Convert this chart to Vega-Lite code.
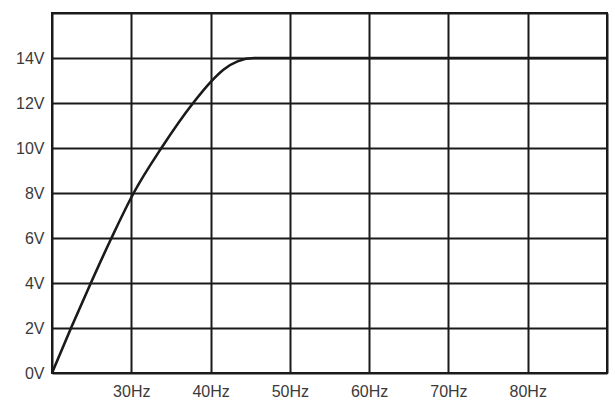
{
  "$schema": "https://vega.github.io/schema/vega-lite/v6.json",
  "width": 555,
  "height": 360,
  "autosize": {"type": "none"},
  "padding": {"left": 52, "top": 13, "right": 8, "bottom": 34},
  "background": "white",
  "data": {
    "values": [
      {"hz": 20, "v": 0},
      {"hz": 22.4, "v": 2},
      {"hz": 24.9, "v": 4},
      {"hz": 27.5, "v": 6},
      {"hz": 30.3, "v": 8},
      {"hz": 33.8, "v": 10},
      {"hz": 37.8, "v": 12},
      {"hz": 40, "v": 12.93},
      {"hz": 41.7, "v": 13.5},
      {"hz": 43.4, "v": 13.85},
      {"hz": 45.5, "v": 14},
      {"hz": 90, "v": 14}
    ]
  },
  "mark": {"type": "line", "color": "#1a1a1a", "strokeWidth": 2.6, "interpolate": "monotone"},
  "encoding": {
    "x": {
      "field": "hz",
      "type": "quantitative",
      "scale": {"domain": [20, 90], "nice": false, "zero": false},
      "axis": {
        "values": [20, 30, 40, 50, 60, 70, 80, 90],
        "labelExpr": "datum.value == 20 || datum.value == 90 ? '' : datum.value + 'Hz'",
        "title": null,
        "ticks": false,
        "domain": false,
        "gridColor": "#1a1a1a",
        "gridWidth": 2,
        "gridOpacity": 1,
        "labelPadding": 10
      }
    },
    "y": {
      "field": "v",
      "type": "quantitative",
      "scale": {"domain": [0, 16], "nice": false},
      "axis": {
        "values": [0, 2, 4, 6, 8, 10, 12, 14, 16],
        "labelExpr": "datum.value == 16 ? '' : datum.value + 'V'",
        "title": null,
        "ticks": false,
        "domain": false,
        "gridColor": "#1a1a1a",
        "gridWidth": 2,
        "gridOpacity": 1,
        "labelPadding": 8
      }
    }
  },
  "config": {
    "view": {"stroke": "#1a1a1a", "strokeWidth": 2},
    "axis": {
      "labelFont": "Liberation Sans",
      "labelFontSize": 16,
      "labelColor": "#3a3a3a"
    }
  }
}
